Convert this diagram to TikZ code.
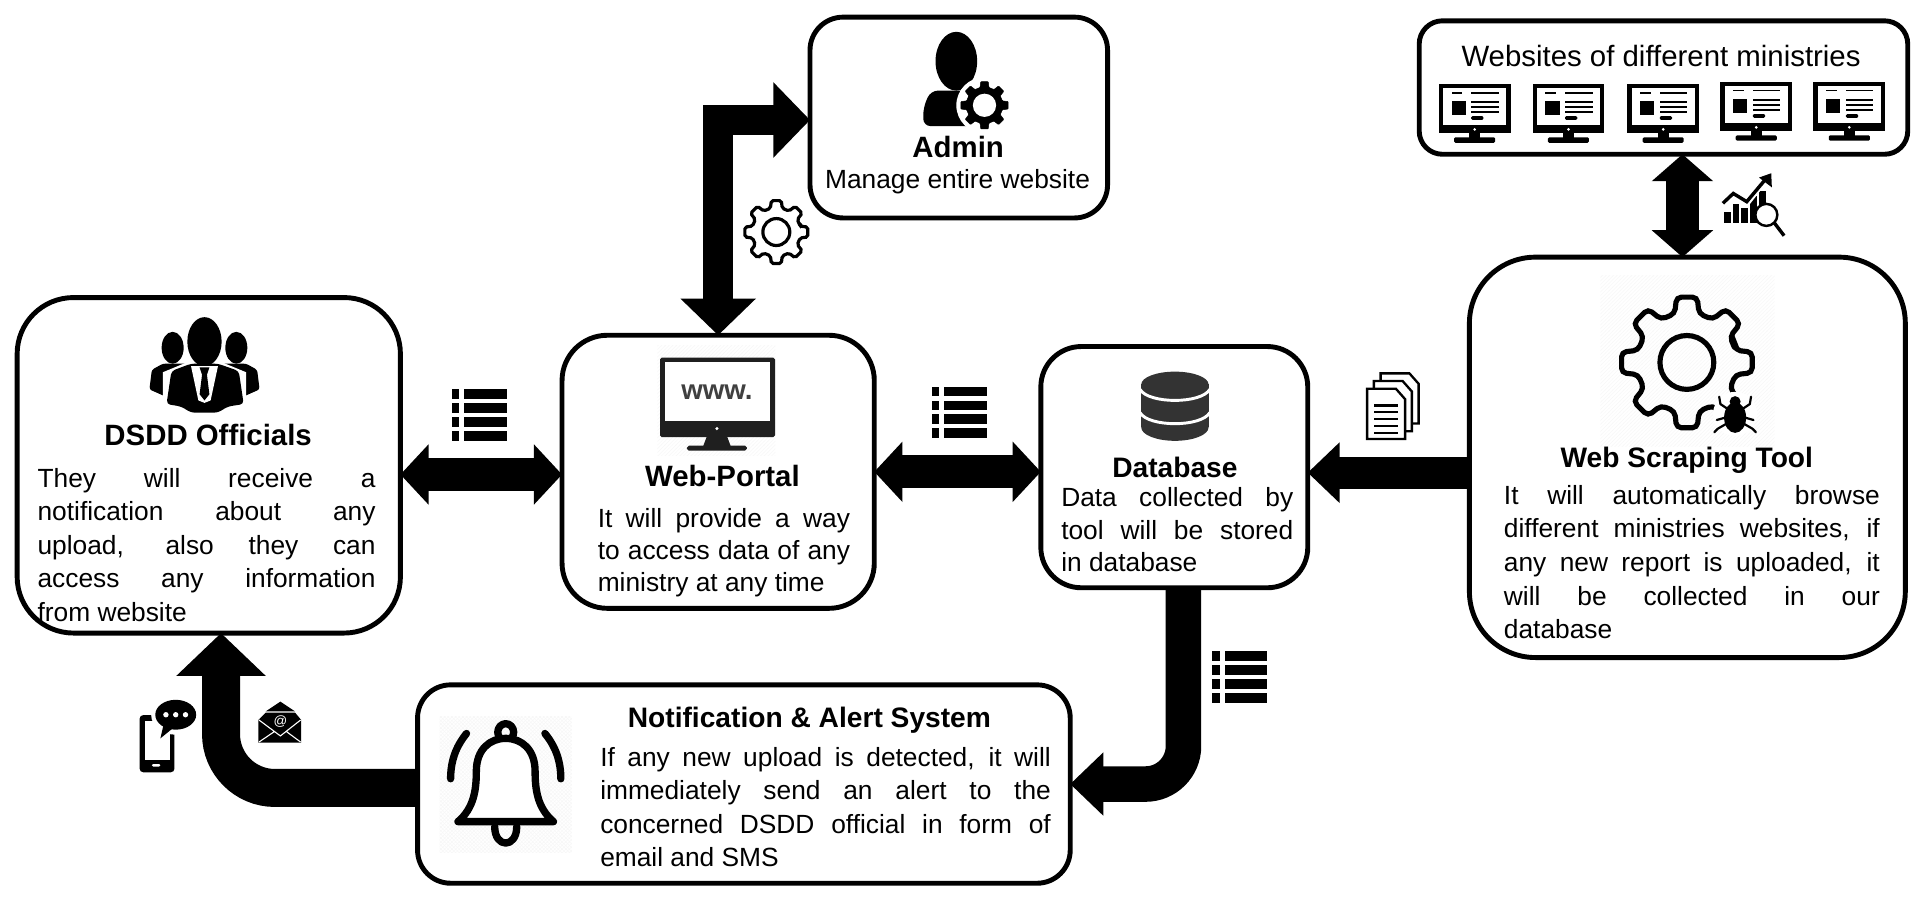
\documentclass[tikz,border=0pt]{standalone}
\usepackage{fontspec}
\setmainfont{Liberation Sans}
\usetikzlibrary{arrows.meta,patterns}

\newcommand{\gearwheel}[4]{%
  \draw[#1] (-14:#3) \foreach \t in {0,45,...,315} {
    -- ({\t-14}:#3) -- ({\t-9}:#2) -- ({\t+9}:#2) -- ({\t+14}:#3)} -- cycle;
  \draw[#1] (0,0) circle [radius=#4];}

\tikzset{
  panel/.style={draw=black,line width=4pt,inner sep=0pt,outer sep=0pt,fill=white},
  titletext/.style={inner sep=0pt,font=\fontsize{#1}{27}\selectfont\bfseries},
  titletext/.default=23,
  plaintext/.style={inner sep=0pt,font=\fontsize{#1}{27}\selectfont},
  plaintext/.default=21.5,
  bodytext/.style={anchor=north west,align=justify,inner sep=0pt,
    font=\fontsize{21.5}{#1}\selectfont,
    execute at begin node={\tolerance=10000\relax\hyphenpenalty=10000\relax\hbadness=10000\relax}},
  flow/.style n args={3}{draw=black,line width=#1pt,-{Triangle[length=#2pt,width=#3pt]}},
  flowboth/.style n args={3}{draw=black,line width=#1pt,
    {Triangle[length=#2pt,width=#3pt]}-{Triangle[length=#2pt,width=#3pt]}},
  pics/listicon/.style={code={
    \foreach \r in {0,11.4,22.8,34.2} {
      \fill (0,\r) rectangle (6,\r+7.6);
      \fill (10,\r) rectangle (45,\r+7.6);}
  }},
  pics/monitoricon/.style={code={
    \fill (0,0) rectangle (58.6,40);
    \fill[white] (3.5,3) rectangle (55,33.2);
    \fill (10.5,6) rectangle (19,7.5);
    \fill (26.5,6) rectangle (49,7.5);
    \fill (10.5,13.6) rectangle (22,25);
    \foreach \r in {13.6,17.6,21.6} {\fill (26.5,\r) rectangle (49,\r+1.6);}
    \fill[rounded corners=1pt] (26.5,26) rectangle (36.5,29);
    \fill[white] (29.3,36.8) circle [radius=1.2];
    \fill (25,40) rectangle (34,44);
    \fill[rounded corners=1pt] (12.5,43.3) rectangle (46,47.7);
  }},
}

\begin{document}
\begin{tikzpicture}[x=1pt,y=-1pt]
\useasboundingbox (0,0) rectangle (1568,732.5);

% boxes
\node[panel,minimum width=243pt,minimum height=164pt,rounded corners=27pt] (admin) at (783,96) {};
\node[panel,minimum width=399pt,minimum height=109pt,rounded corners=19pt] (sites) at (1358.5,71.5) {};
\node[panel,minimum width=356pt,minimum height=327pt,rounded corners=54pt] (scraper) at (1378,373.5) {};
\node[panel,minimum width=218pt,minimum height=197pt,rounded corners=33pt] (dbase) at (959,381.5) {};
\node[panel,minimum width=255pt,minimum height=223pt,rounded corners=37pt] (portal) at (586.5,385.3) {};
\node[panel,minimum width=313pt,minimum height=274pt,rounded corners=46pt] (dsdd) at (170.5,380) {};
\node[panel,minimum width=533pt,minimum height=162pt,rounded corners=27pt] (notif) at (607.5,640.3) {};

% arrows
\draw[flowboth={27}{23}{48}] ([yshift=-7.5pt]dsdd.east) -- ([yshift=-2.2pt]portal.west);
\draw[flowboth={27}{23}{48}] (portal.east) -- (portal.east -| dbase.west);
\draw[flow={26}{26}{48}] ([yshift=-12.5pt]scraper.west) -- ([yshift=-4.5pt]dbase.east);
\draw[flowboth={27.5}{22}{49}] ([xshift=15.5pt]sites.south) -- ([xshift=-4pt]scraper.north);
\draw[flowboth={24}{30}{60}] ([yshift=-2pt]admin.west) -| (portal.north);
\draw[flow={29}{27}{50},rounded corners=31pt] ([xshift=7.5pt]dbase.south) |- (notif.east);
\draw[flow={31}{35}{71},rounded corners=44pt] ([yshift=-3.2pt]notif.west) -| ([xshift=10pt]dsdd.south);

% faint grounds behind some icons
\fill[pattern=north east lines,pattern color=black!3] (1307,225) rectangle (1449,365);
\fill[pattern=north east lines,pattern color=black!3] (537,282) rectangle (633,372);
\fill[pattern=crosshatch,pattern color=black!3] (359,585) rectangle (467,696);

% texts
\node[plaintext=24] (sitesname) at (1356.5,46) {Websites of different ministries};
\node[titletext=24] (adminname) at (782.5,120) {Admin};
\node[plaintext] (admintext) at (782,148) {Manage entire website};
\node[titletext=24] (dsddname) at (170,355.5) {DSDD Officials};
\node[bodytext=27.4,text width=276pt] (dsddtext) at (30.5,382)
  {They will receive a\linebreak notification about any\linebreak upload, also they can\linebreak access any information\linebreak from website};
\node[titletext=24] (portalname) at (590,388.5) {Web-Portal};
\node[bodytext=26,text width=206pt] (portaltext) at (488,415)
  {It will provide a way\linebreak to access data of any\linebreak ministry at any time};
\node[titletext] (dbasename) at (959.5,382) {Database};
\node[bodytext=26.5,text width=189.5pt] (dbasetext) at (866.5,398)
  {Data collected by\linebreak tool will be stored\linebreak in database};
\node[titletext] (scrapername) at (1377.5,375.5) {Web Scraping Tool};
\node[bodytext=27.5,text width=307pt] (scrapertext) at (1228,396)
  {It will automatically browse\linebreak different ministries websites, if\linebreak any new report is uploaded, it\linebreak will be collected in our\linebreak database};
\node[titletext] (notifname) at (661,588) {Notification \& Alert System};
\node[bodytext=27.4,text width=368pt] (notiftext) at (490,610)
  {If any new upload is detected, it will\linebreak immediately send an alert to the\linebreak concerned DSDD official in form of\linebreak email and SMS};

% list icons
\pic at (369,318) {listicon};
\pic at (761,315.7) {listicon};
\pic at (990,532) {listicon};

% monitors of the ministries
\pic at (1175,68.9) {monitoricon};
\pic at (1251.6,68.9) {monitoricon};
\pic at (1329,68.9) {monitoricon};
\pic at (1405,67.2) {monitoricon};
\pic at (1481,67.2) {monitoricon};

% gear beside the admin arrow
\begin{scope}[shift={(634,189.5)}]
  \gearwheel{line width=2.6pt,rounded corners=1.5pt}{26}{20}{11}
\end{scope}

% admin figure
\fill (781,50) ellipse [x radius=17,y radius=24];
\fill[rounded corners=6pt] (754,103) -- (754,88) -- (760,74) -- (802,74) -- (812,88) -- (812,103) -- cycle;
\fill[white] (804,86) circle [radius=23];
\begin{scope}[shift={(804,86)}]
  \gearwheel{fill=black,rounded corners=0.5pt}{19.5}{15}{0}
  \fill[white] (0,0) circle [radius=9.5];
\end{scope}

% officials
\fill (141,284) ellipse [x radius=9,y radius=13];
\fill (193,284) ellipse [x radius=9,y radius=13];
\fill[rounded corners=2pt] (133,297) -- (124,302) -- (122,318) -- (140,326) -- (194,326) -- (212,318) -- (210,302) -- (201,297) -- cycle;
\fill[white] (167,279) ellipse [x radius=17,y radius=23];
\fill[white] (133,304) -- (167,290) -- (201,304) -- (201,338) -- (133,338) -- cycle;
\fill (167,279) ellipse [x radius=14,y radius=20];
\fill[rounded corners=3pt] (140,303) -- (156,297) -- (178,297) -- (195,303) -- (199,330) -- (186,332) -- (178,337) -- (156,337) -- (148,332) -- (136,330) -- cycle;
\fill[white] (156,299) -- (178,299) -- (172,327) -- (167,329) -- (162,327) -- cycle;
\fill (163,300) -- (171,300) -- (169,306) -- (171,322) -- (167,327) -- (163,322) -- (165,306) -- cycle;

% www monitor
\fill[black!88,rounded corners=1.5pt] (539,292) rectangle (633,357);
\fill[white] (543,296) rectangle (628.5,343.5);
\node[inner sep=0pt,text=black!75,font=\fontsize{22.6}{24}\selectfont\bfseries] (wwwtext) at (585.5,320) {www.};
\fill[white] (585.5,350) circle [radius=1.4];
\fill[black!88] (577,357) -- (594,357) -- (597,365) -- (574,365) -- cycle;
\fill[black!88,rounded corners=1.5pt] (561,364) rectangle (610,368);

% database stack
\begin{scope}[black!80]
  \fill (932,314) -- (987,314) -- (987,349) -- (932,349) -- cycle;
  \fill (959.5,314) ellipse [x radius=27.5,y radius=10.5];
  \fill (959.5,349) ellipse [x radius=27.5,y radius=11];
\end{scope}
\draw[white,line width=2.4pt] (931,318) .. controls (938,330) and (981,330) .. (988,318);
\draw[white,line width=2.4pt] (931,337) .. controls (938,349) and (981,349) .. (988,337);

% documents
\foreach \dx/\dy in {11/-12.6,5.5/-6.3,0/0} {
  \begin{scope}[shift={(\dx,\dy)}]
    \draw[fill=white,line width=1.9pt] (1116.5,317.5) -- (1140,317.5) -- (1147.5,326) -- (1147.5,358.5) -- (1116.5,358.5) -- cycle;
  \end{scope}}
\foreach \r in {330,335.6,341.2,346.8,352.4} {\fill (1122,\r) rectangle (1142,\r+2);}

% big gear with bug
\begin{scope}[shift={(1377.6,296)}]
  \gearwheel{line width=4.2pt,rounded corners=4pt}{54}{41}{22}
\end{scope}
\fill[white] (1417,338) circle [radius=18];
\begin{scope}[shift={(1417,339)}]
  \fill (0,2) ellipse [x radius=9,y radius=12.5];
  \fill (0,-11) circle [radius=4.5];
  \draw[line width=1.8pt,line cap=round,line join=round]
    (-6,-5) -- (-12,-9) -- (-13,-15) (6,-5) -- (12,-9) -- (13,-15)
    (-8,2) -- (-15,4) (8,2) -- (15,4)
    (-7,7) -- (-14,11) -- (-17,14) (7,7) -- (14,11) -- (17,14);
\end{scope}

% chart with lens
\foreach \bx/\by in {1408/173,1415/167,1422/170,1429.5/160,1436.5/156} {
  \fill (\bx,\by) rectangle (\bx+5.4,182);}
\draw[line width=3.6pt,white] (1406,168) -- (1415.5,160) -- (1426.5,167) -- (1443,146);
\draw[line width=2.8pt] (1407,166) -- (1415.5,158) -- (1426.5,164.7) -- (1443,145);
\fill (1446.5,141.5) -- (1447,153) -- (1436.5,145) -- cycle;
\draw[fill=white,line width=2pt] (1442.5,175.5) circle [radius=9];
\draw[line width=2.8pt] (1449,182) -- (1457,192.5);

% bell
\begin{scope}[line width=6pt,line cap=round,line join=round]
  \draw (413,598) ellipse [x radius=6.5,y radius=7];
  \draw[fill=white] (374,671) .. controls (387,660) and (389,645) .. (389,630)
    .. controls (389,612) and (400,603) .. (413,603)
    .. controls (426,603) and (437,612) .. (437,630)
    .. controls (437,645) and (439,660) .. (452,671) -- cycle;
  \draw (404,675) .. controls (404,693) and (422,693) .. (422,675);
  \draw (381,599) .. controls (372,610) and (368,622) .. (368,636);
  \draw (445,599) .. controls (454,610) and (458,622) .. (458,636);
\end{scope}

% phone with speech bubble
\fill[rounded corners=3pt] (114,584) rectangle (142.5,630.7);
\fill[white] (118.5,589) rectangle (138.5,620.6);
\fill[white,rounded corners=1pt] (124,624) rectangle (131,626);
\fill[white] (143.5,584) ellipse [x radius=20,y radius=16];
\fill[white] (128,586) -- (131,608) -- (143,592) -- cycle;
\fill (143.5,583.7) ellipse [x radius=16.7,y radius=12.2];
\fill (131,603) -- (134,590) -- (142,594) -- cycle;
\foreach \dx in {135.5,143.5,151.5} {\fill[white] (\dx,583.7) circle [radius=2.2];}

% envelope with at sign
\fill (229,573) -- (241,581) -- (217,581) -- cycle;
\fill (211,588) -- (217,582) -- (241,582) -- (246,588) -- (246,606.5) -- (211,606.5) -- cycle;
\draw[white,line width=0.9pt] (211.5,588) -- (229,601) -- (245.5,588) (211.5,606) -- (224,597.5) (245.5,606) -- (234,597.5);
\node[inner sep=0pt,text=white,font=\fontsize{11}{11}\selectfont] (attext) at (229,589) {@};
\end{tikzpicture}
\end{document}
